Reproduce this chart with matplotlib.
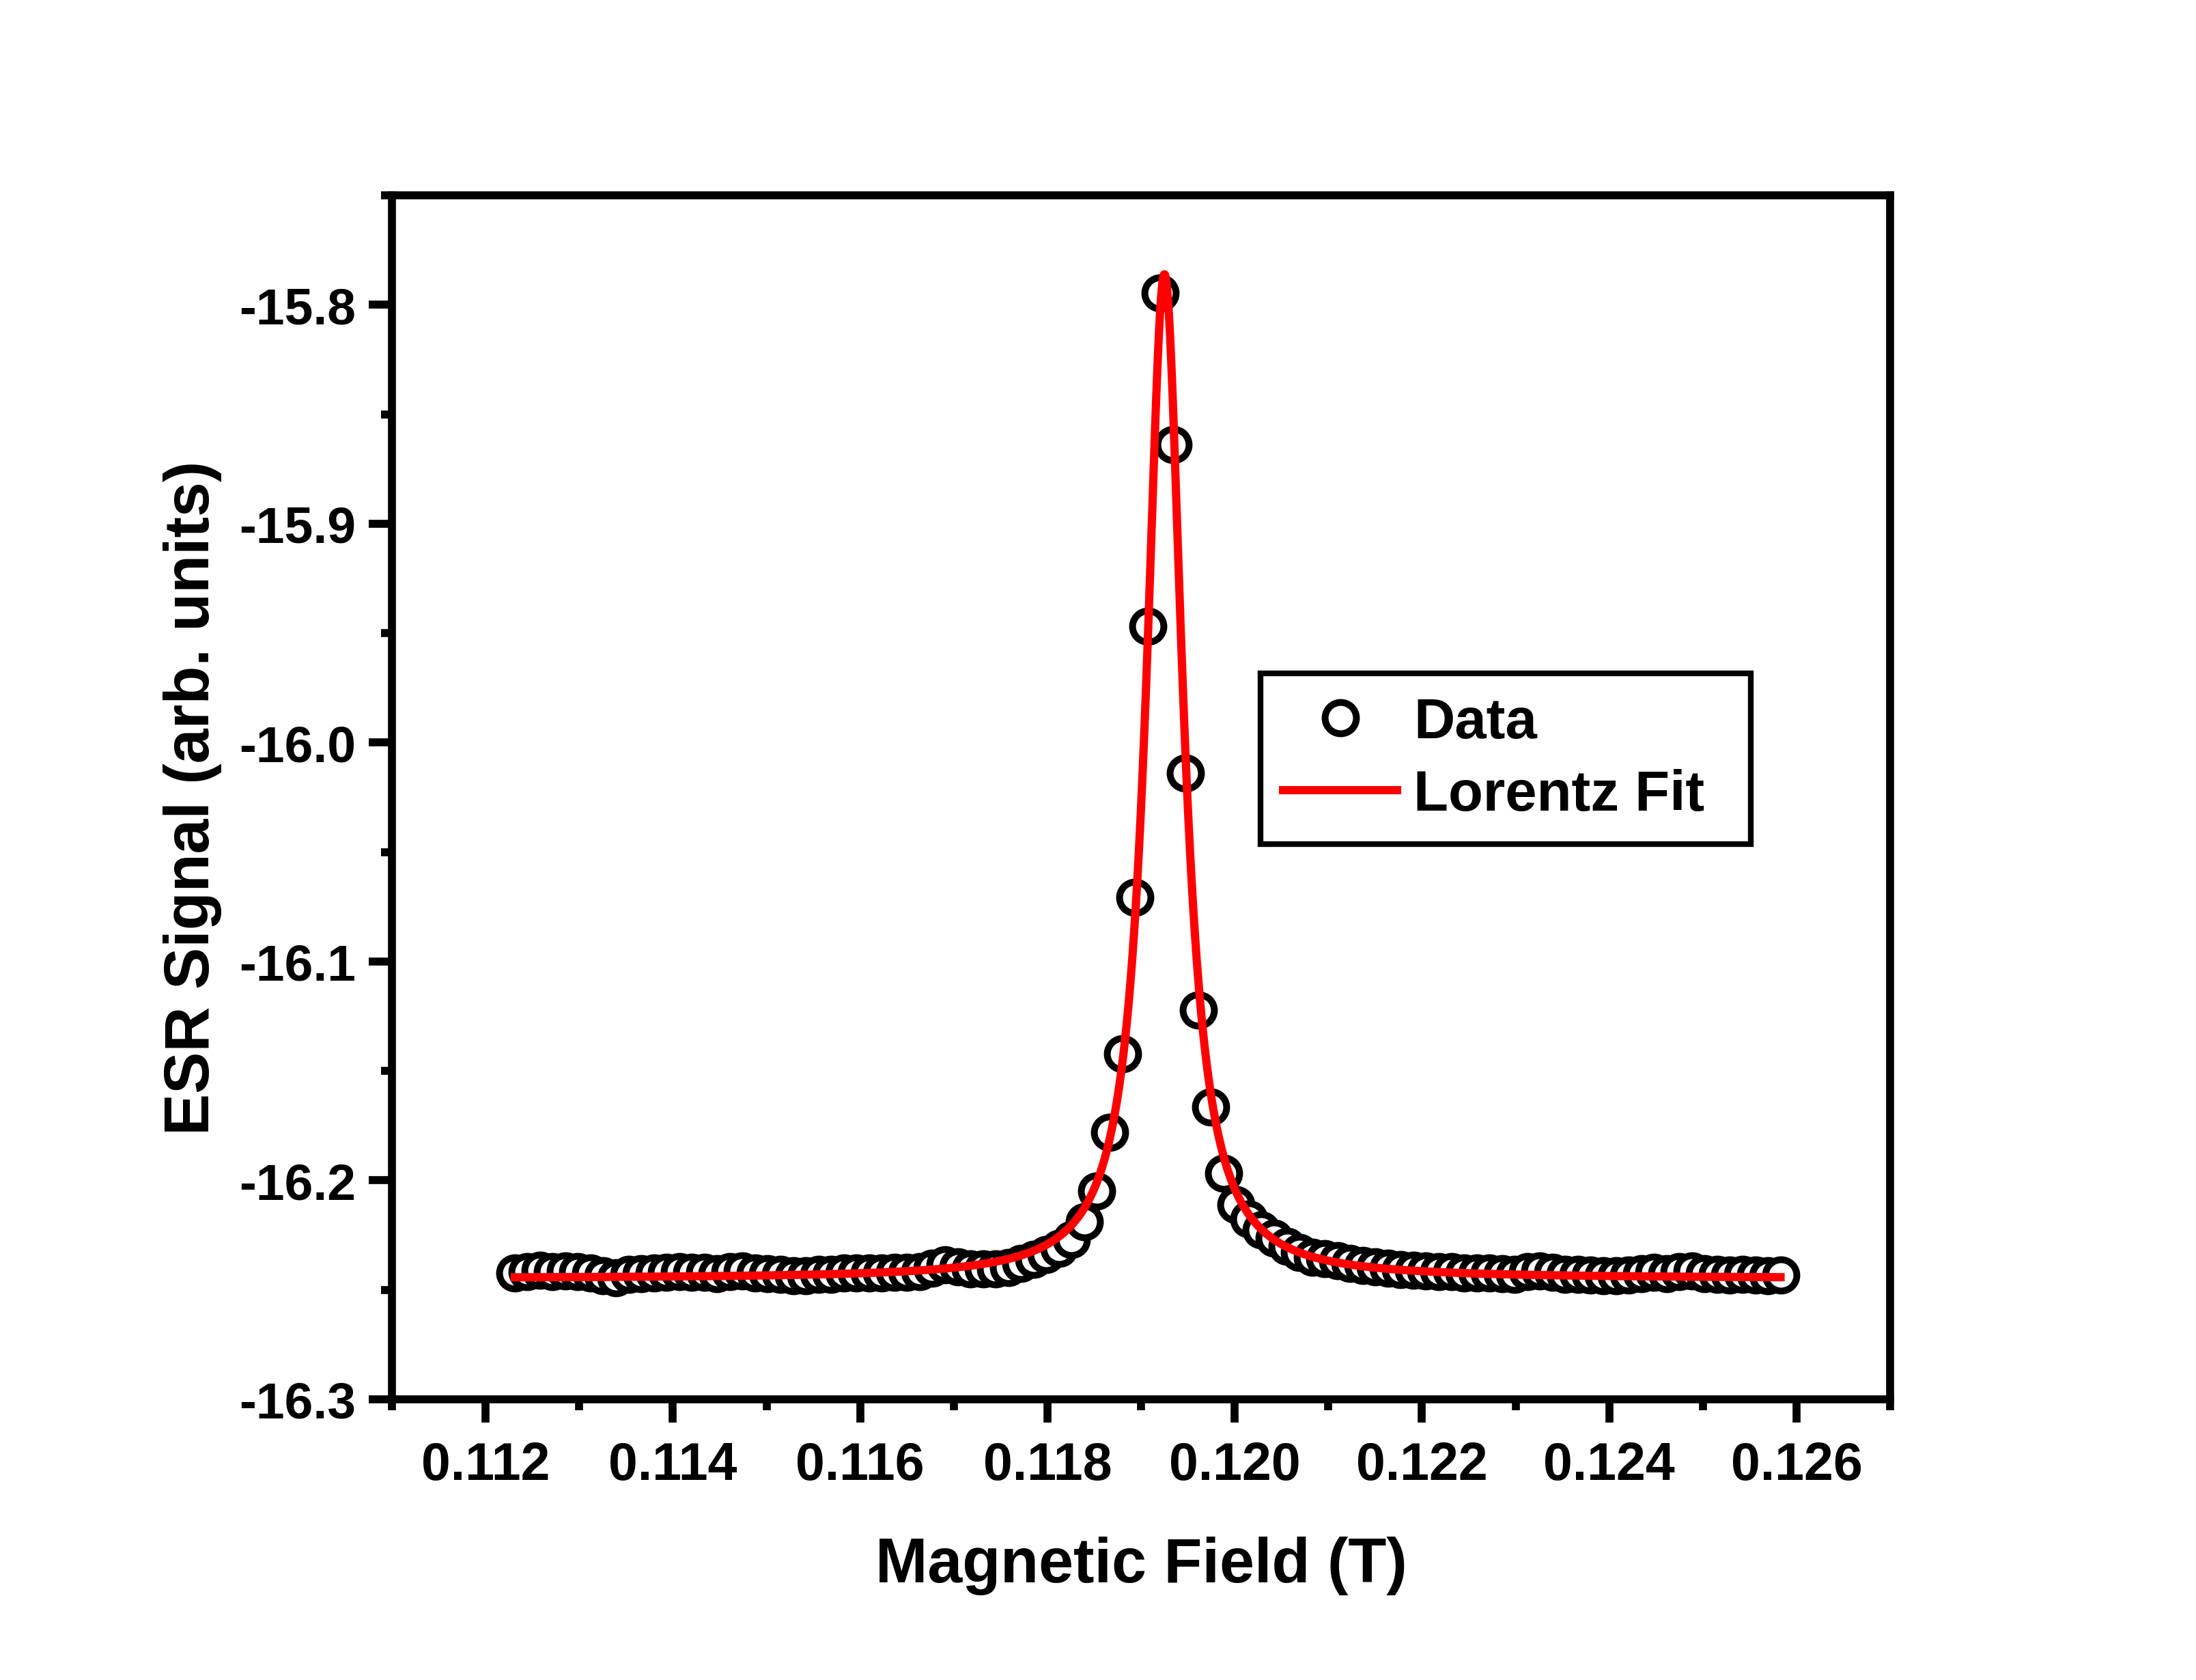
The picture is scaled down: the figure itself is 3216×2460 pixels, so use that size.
import numpy as np
from matplotlib import pyplot as plt
from matplotlib.ticker import MultipleLocator, FormatStrFormatter

plt.rcParams['font.family'] = ['Liberation Sans', 'DejaVu Sans']
plt.rcParams['font.weight'] = 'bold'
plt.rcParams['axes.unicode_minus'] = False

# field sweep (T), 101 points evenly stepped by the instrument
field = np.linspace(0.11231, 0.12583, 101)
signal = [-16.2423, -16.2418, -16.2411, -16.2416, -16.2413, -16.2418, -16.2423, -16.2434, -16.2446, -16.2430,
          -16.2426, -16.2423, -16.2420, -16.2418, -16.2420, -16.2420, -16.2426, -16.2418, -16.2413, -16.2423,
          -16.2426, -16.2430, -16.2434, -16.2434, -16.2428, -16.2428, -16.2424, -16.2424, -16.2423, -16.2422,
          -16.2421, -16.2420, -16.2416, -16.2400, -16.2386, -16.2395, -16.2405, -16.2405, -16.2404, -16.2398,
          -16.2380, -16.2360, -16.2340, -16.2312, -16.2271, -16.2188, -16.2049, -16.1779, -16.1421, -16.0708,
          -15.9470, -15.7947, -15.8640, -16.0138, -16.1222, -16.1665, -16.1968, -16.2112, -16.2175, -16.2225,
          -16.2265, -16.2300, -16.2330, -16.2350, -16.2358, -16.2368, -16.2380, -16.2388, -16.2396, -16.2400,
          -16.2406, -16.2409, -16.2412, -16.2416, -16.2418, -16.2422, -16.2424, -16.2424, -16.2425, -16.2428,
          -16.2418, -16.2413, -16.2420, -16.2428, -16.2430, -16.2432, -16.2434, -16.2434, -16.2432, -16.2425,
          -16.2420, -16.2425, -16.2418, -16.2413, -16.2425, -16.2430, -16.2432, -16.2430, -16.2432, -16.2434,
          -16.2432]

# Lorentz fit parameters (Origin style: y0, xc, w, A)
y0 = -16.2448
xc = 0.11925
w = 0.00047
A = 3.387e-4


def lorentz(x):
    return y0 + (2 * A / np.pi) * w / (4 * (x - xc) ** 2 + w ** 2)


fit_x = np.linspace(field[0], field[-1], 3000)

fig = plt.figure(figsize=(10.72, 8.2033), dpi=300)
ax = fig.add_axes([0.1785, 0.16701, 0.6822, 0.71637])

ax.plot(field, signal, 'o', ms=11, mew=2.4, mec='black', mfc='white', label='Data', zorder=2)
ax.plot(fit_x, lorentz(fit_x), '-', color='red', lw=2.9, label='Lorentz Fit', zorder=3)

ax.set_xlim(0.111, 0.127)
ax.set_ylim(-16.3, -15.75)
ax.xaxis.set_major_locator(MultipleLocator(0.002))
ax.xaxis.set_minor_locator(MultipleLocator(0.001))
ax.yaxis.set_major_locator(MultipleLocator(0.1))
ax.yaxis.set_minor_locator(MultipleLocator(0.05))
ax.xaxis.set_major_formatter(FormatStrFormatter('%.3f'))
ax.yaxis.set_major_formatter(FormatStrFormatter('%.1f'))

for s in ax.spines.values():
    s.set_linewidth(2.8)
ax.tick_params(which='both', direction='out', width=2.8, top=False, right=False)
ax.tick_params(which='major', length=8.2, labelsize=18)
ax.tick_params(axis='x', which='major', pad=6.2, labelsize=18.5)
ax.tick_params(axis='y', which='major', pad=4.5)
ax.tick_params(which='minor', length=3.8)

ax.set_xlabel('Magnetic Field (T)', fontsize=22, fontweight='bold', labelpad=16)
ax.set_ylabel('ESR Signal (arb. units)', fontsize=22, fontweight='bold', labelpad=6)

leg = ax.legend(loc='upper left', bbox_to_anchor=(0.5798, 0.4611, 0.3272, 0.1418), mode='expand',
                borderaxespad=0, borderpad=0.4, labelspacing=0.33, handlelength=2.0,
                handletextpad=0.29, fontsize=20, fancybox=False, frameon=True, framealpha=1)
leg.get_frame().set_edgecolor('black')
leg.get_frame().set_linewidth(2.0)

fig.savefig('out.png', dpi=300)
